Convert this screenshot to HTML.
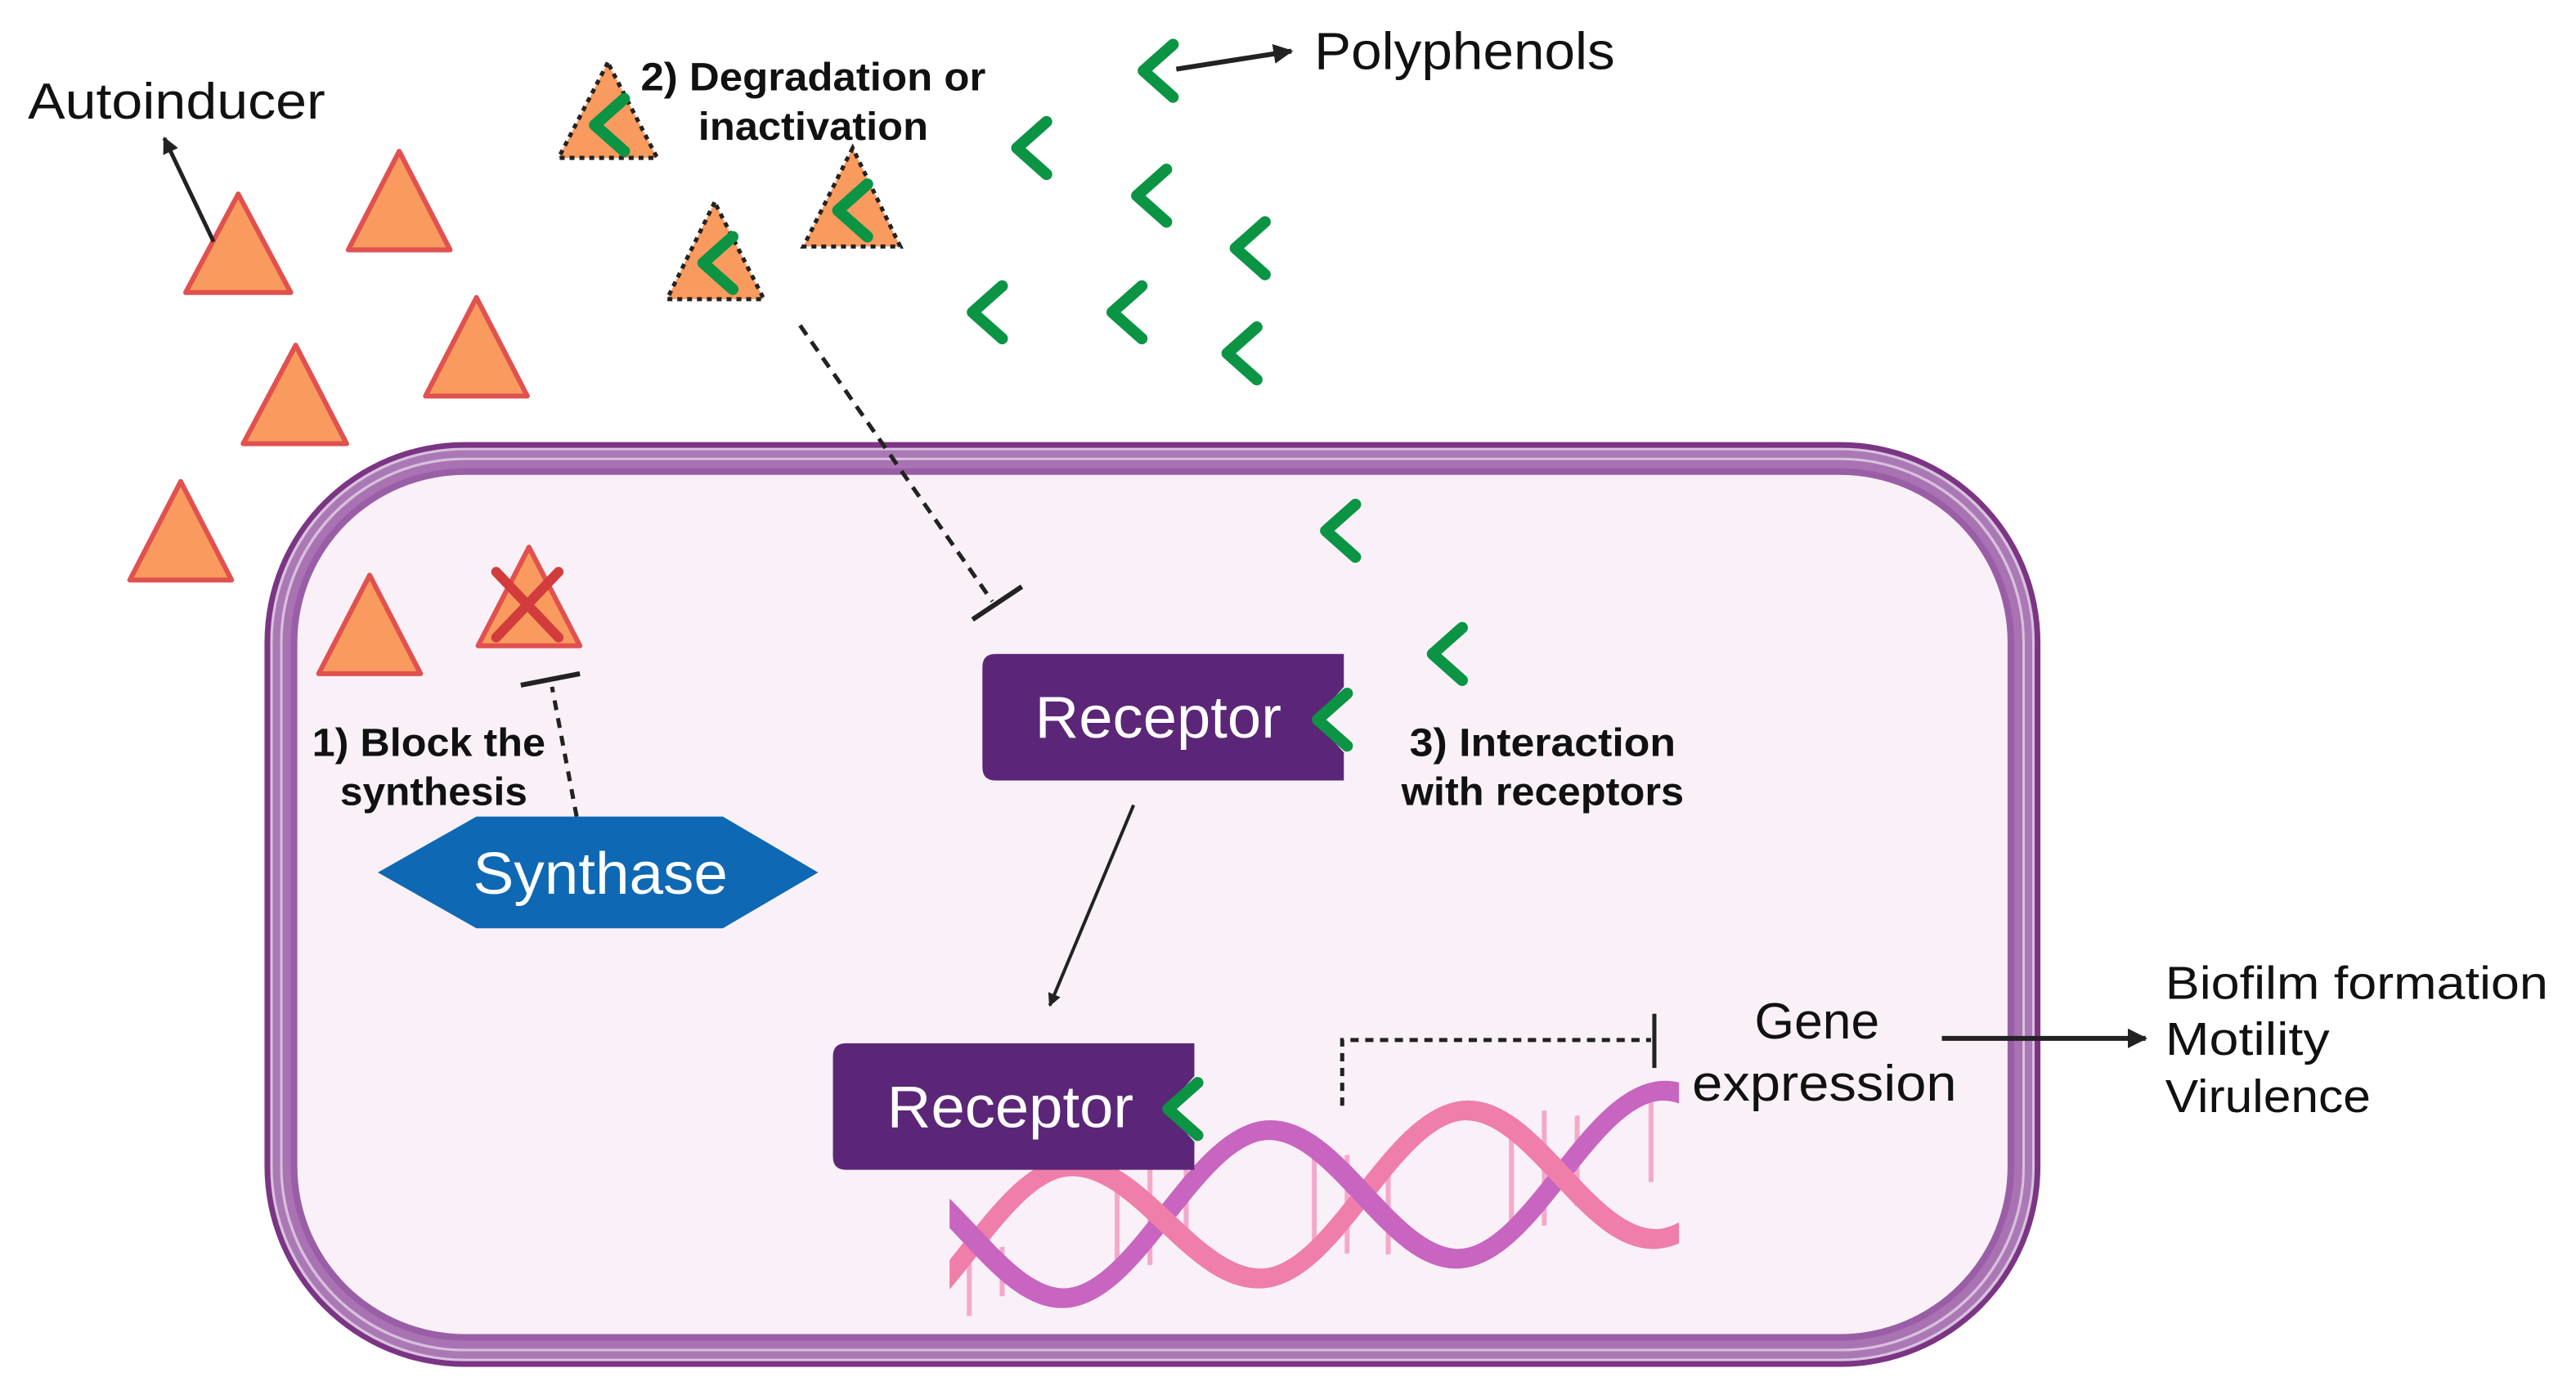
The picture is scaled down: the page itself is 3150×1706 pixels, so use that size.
<!DOCTYPE html>
<html><head><meta charset="utf-8"><style>
html,body{margin:0;padding:0;background:#fff;}
svg{display:block;}
text{font-family:"Liberation Sans",sans-serif;}
</style></head><body>
<svg width="3150" height="1706" viewBox="0 0 1568 849" xmlns="http://www.w3.org/2000/svg">
<defs>
<clipPath id="dc"><rect x="578" y="560" width="444" height="300"/></clipPath>
<marker id="ah" viewBox="0 0 10 10" refX="9" refY="5" markerWidth="4" markerHeight="4" orient="auto"><path d="M0,0 L10,5 L0,10 z" fill="#222"/></marker>
<g id="chev"><polyline points="10,-16 -8,0 10,16" fill="none" stroke="#0b9444" stroke-width="7" stroke-linecap="round" stroke-linejoin="round"/></g>
</defs>

<!-- cell -->
<rect x="161" y="269" width="1081" height="563" rx="122" fill="#7b3584"/>
<rect x="164.5" y="272.5" width="1074" height="556" rx="118" fill="#d9c2dd"/>
<rect x="166" y="274" width="1071" height="553" rx="117" fill="#aa79b5"/>
<rect x="170.5" y="278.5" width="1062" height="544" rx="112" fill="#d8c0dc"/>
<rect x="172" y="280" width="1059" height="541" rx="111" fill="#a872b3"/>
<rect x="177" y="285" width="1049" height="531" rx="106" fill="#9a5ea6"/>
<rect x="181" y="289" width="1041" height="523" rx="102" fill="#f9f1f7"/>

<!-- autoinducers -->
<g fill="#f99a5e" stroke="#e0514f" stroke-width="3" stroke-linejoin="round">
<polygon points="145,118 113,178 177,178"/>
<polygon points="243,92 212,152 274,152"/>
<polygon points="180,210 148,270 211,270"/>
<polygon points="290,181 259,241 321,241"/>
<polygon points="110,293 79,353 141,353"/>
<polygon points="225,350 194,410 256,410"/>
<polygon points="322,333 291,393 353,393"/>
</g>
<g stroke="#d23c3c" stroke-width="6" stroke-linecap="round">
<line x1="302" y1="348" x2="340" y2="388"/><line x1="340" y1="348" x2="302" y2="388"/>
</g>
<!-- degraded -->
<g fill="#f99a5e" stroke="#222" stroke-width="2.5" stroke-dasharray="3,3">
<polygon points="370,38 340,96 400,96"/>
<polygon points="519,90 489,150 548,150"/>
<polygon points="435,123 406,182 465,182"/>
</g>
<use href="#chev" x="370" y="76"/>
<use href="#chev" x="518" y="128"/>
<use href="#chev" x="436" y="160"/>

<!-- polyphenols -->
<use href="#chev" x="704" y="43"/>
<use href="#chev" x="627" y="90"/>
<use href="#chev" x="700" y="119"/>
<use href="#chev" x="760" y="151"/>
<use href="#chev" x="600" y="190"/>
<use href="#chev" x="685" y="190"/>
<use href="#chev" x="755" y="215"/>
<use href="#chev" x="815" y="323"/>
<use href="#chev" x="880" y="398"/>

<!-- arrows -->
<line x1="130" y1="147" x2="100" y2="84" stroke="#222" stroke-width="2.5" marker-end="url(#ah)"/>
<line x1="716" y1="42" x2="786" y2="31" stroke="#222" stroke-width="3" marker-end="url(#ah)"/>
<line x1="487" y1="198" x2="604" y2="366" stroke="#222" stroke-width="2.5" stroke-dasharray="7,5"/>
<line x1="592" y1="377" x2="622" y2="357" stroke="#222" stroke-width="3"/>
<line x1="351" y1="497" x2="336" y2="418" stroke="#222" stroke-width="2.5" stroke-dasharray="6,5"/>
<line x1="317" y1="417" x2="353" y2="410" stroke="#222" stroke-width="3"/>
<line x1="690" y1="490" x2="639" y2="612" stroke="#222" stroke-width="2" marker-end="url(#ah)"/>

<!-- synthase -->
<polygon points="230,531 290,497 440,497 498,531 440,565 290,565" fill="#0e68b4"/>
<text x="288" y="544" font-size="36" fill="#fff" textLength="155" lengthAdjust="spacingAndGlyphs">Synthase</text>

<!-- receptor 1 -->
<path d="M606,398 H818 V418 L800,438 L818,458 V475 H606 Q598,475 598,467 V406 Q598,398 606,398 z" fill="#5b2678"/>
<text x="630" y="449" font-size="36" fill="#fff" textLength="150" lengthAdjust="spacingAndGlyphs">Receptor</text>
<use href="#chev" x="810" y="438"/>

<!-- DNA -->
<g clip-path="url(#dc)" fill="none">
<g transform="matrix(1,-0.1,0,1,0,80)">
<g stroke="#f4a9cb" stroke-width="3">
<line x1="590" y1="735" x2="590" y2="780"/><line x1="610" y1="740" x2="610" y2="770"/>
<line x1="680" y1="705" x2="680" y2="765"/><line x1="700" y1="700" x2="700" y2="760"/><line x1="722" y1="697" x2="722" y2="745"/>
<line x1="800" y1="700" x2="800" y2="760"/><line x1="820" y1="705" x2="820" y2="765"/><line x1="845" y1="712" x2="845" y2="768"/>
<line x1="920" y1="695" x2="920" y2="760"/><line x1="940" y1="690" x2="940" y2="760"/><line x1="960" y1="695" x2="960" y2="750"/>
<line x1="1005" y1="690" x2="1005" y2="740"/>
</g>
<path d="M530,785 C573,785 607,695 650,695 C693,695 727,775 770,775 C813,775 847,685 890,685 C933,685 967,775 1010,775 C1053,775 1087,685 1130,685" stroke="#ef7ea8" stroke-width="12"/>
<path d="M530,685 C573,685 607,775 650,775 C693,775 727,685 770,685 C813,685 847,775 890,775 C933,775 967,685 1010,685 C1053,685 1087,775 1130,775" stroke="#c865c0" stroke-width="12"/>
<path d="M650,695 C693,695 727,775 770,775" stroke="#ef7ea8" stroke-width="12"/>
<path d="M890,685 C933,685 967,775 1010,775" stroke="#ef7ea8" stroke-width="12"/>
</g>
</g>

<!-- receptor 2 -->
<path d="M515,635 H727 V655 L709,675 L727,695 V712 H515 Q507,712 507,704 V643 Q507,635 515,635 z" fill="#5b2678"/>
<text x="540" y="686" font-size="36" fill="#fff" textLength="150" lengthAdjust="spacingAndGlyphs">Receptor</text>
<use href="#chev" x="719" y="675"/>

<!-- gene expression inhibition -->
<path d="M817,673 V633 H1005" fill="none" stroke="#222" stroke-width="2.5" stroke-dasharray="5,4"/>
<line x1="1007" y1="617" x2="1007" y2="650" stroke="#222" stroke-width="2.5"/>
<line x1="1182" y1="632" x2="1306" y2="632" stroke="#222" stroke-width="3" marker-end="url(#ah)"/>

<!-- labels -->
<text x="17" y="72" font-size="31" fill="#111" textLength="181" lengthAdjust="spacingAndGlyphs">Autoinducer</text>
<text x="800" y="42" font-size="32" fill="#111" textLength="183" lengthAdjust="spacingAndGlyphs">Polyphenols</text>
<g font-size="24" font-weight="bold" fill="#111" lengthAdjust="spacingAndGlyphs">
<text x="390" y="55" textLength="210" lengthAdjust="spacingAndGlyphs">2) Degradation or</text>
<text x="425" y="85" textLength="140" lengthAdjust="spacingAndGlyphs">inactivation</text>
<text x="190" y="460" textLength="142" lengthAdjust="spacingAndGlyphs">1) Block the</text>
<text x="207" y="490" textLength="114" lengthAdjust="spacingAndGlyphs">synthesis</text>
<text x="858" y="460" textLength="162" lengthAdjust="spacingAndGlyphs">3) Interaction</text>
<text x="853" y="490" textLength="172" lengthAdjust="spacingAndGlyphs">with receptors</text>
</g>
<g font-size="31" fill="#111">
<text x="1068" y="632" textLength="76" lengthAdjust="spacingAndGlyphs">Gene</text>
<text x="1030" y="670" textLength="161" lengthAdjust="spacingAndGlyphs">expression</text>
</g>
<g font-size="28" fill="#111">
<text x="1318" y="608" textLength="233" lengthAdjust="spacingAndGlyphs">Biofilm formation</text>
<text x="1318" y="642" textLength="100" lengthAdjust="spacingAndGlyphs">Motility</text>
<text x="1318" y="677" textLength="125" lengthAdjust="spacingAndGlyphs">Virulence</text>
</g>
</svg>
</body></html>
